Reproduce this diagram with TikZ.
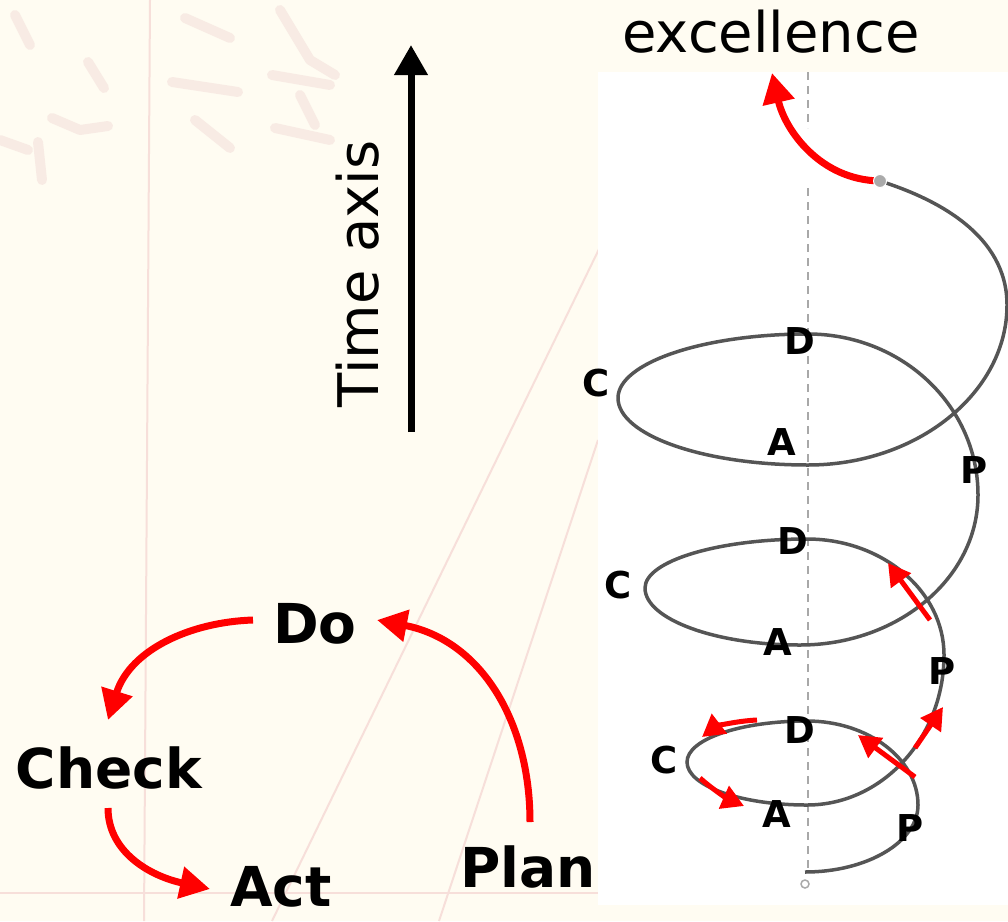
\documentclass[tikz,border=0pt]{standalone}
\usepackage{fontspec}
\setmainfont{DejaVu Sans}
\usetikzlibrary{arrows.meta}
\definecolor{paper}{HTML}{FFFCF2}
\definecolor{faint}{HTML}{F7DFDA}
\definecolor{scrib}{HTML}{EFD3D0}
\definecolor{spiralgray}{HTML}{555555}
\definecolor{dashgray}{HTML}{A8A8A8}
\definecolor{dotgray}{HTML}{AAAAAA}
\tikzset{
  bigbold/.style={font=\fontsize{55}{60}\selectfont\bfseries, inner sep=0pt, anchor=base},
  regtext/.style={font=\fontsize{56}{60}\selectfont, inner sep=0pt, anchor=base},
  lab/.style={font=\fontsize{37}{40}\selectfont\bfseries, inner sep=0pt},
  redarrow/.style={draw=red, line width=7pt, -{Triangle[length=30pt,width=31pt]}},
  smallred/.style={draw=red, line width=5pt, -{Triangle[length=22pt,width=24pt]}},
  spiralline/.style={draw=spiralgray, line width=3.5pt},
  axisline/.style={draw=dashgray, line width=2.5pt, dash pattern=on 8pt off 6pt},
  faintline/.style={draw=faint, line width=2pt},
  scribble/.style={draw=scrib, line width=10pt, line cap=round, line join=round, opacity=0.4},
}
\begin{document}
\begin{tikzpicture}[x=1pt,y=-1pt]
\useasboundingbox (0,0) rectangle (1008,921);
% background paper
\fill[paper] (0,0) rectangle (1008,921);
\draw[faintline] (150,0) -- (144,921);
\draw[faintline] (601,245) -- (272,921);
\draw[faintline] (598,440) -- (439,921);
\draw[faintline] (0,893) -- (600,893);
\draw[scribble] (15,15) -- (30,45);
\draw[scribble] (88,62) -- (104,88);
\draw[scribble] (52,118) -- (80,130) -- (108,126);
\draw[scribble] (0,140) -- (28,150);
\draw[scribble] (38,142) -- (42,180);
\draw[scribble] (185,18) -- (230,38);
\draw[scribble] (172,82) -- (238,92);
\draw[scribble] (195,120) -- (230,148);
\draw[scribble] (280,10) -- (310,60) -- (335,75);
\draw[scribble] (272,75) -- (330,85);
\draw[scribble] (275,128) -- (330,140);
\draw[scribble] (300,95) -- (315,125);
% white panel
\fill[white] (598,72) rectangle (1008,905);
% vertical dashed axis of the spiral
\draw[axisline] (808,72) -- (808,128);
\draw[axisline] (808,188) -- (808,872);
\coordinate (origin) at (805,884);
\draw[dotgray, line width=1.5pt, fill=white] (origin) circle (4);
% spiral
\coordinate (S) at (805,872);
\coordinate (top) at (880,181);
\draw[spiralline] (S)
  .. controls (867,872) and (918,842) .. (918,805)
  .. controls (918,759) and (868,721) .. (807,721)
  .. controls (741,721) and (687,739) .. (687,762)
  .. controls (687,786) and (741,805) .. (807,805)
  .. controls (882,805) and (944,738) .. (944,655)
  .. controls (944,591) and (882,539) .. (807,539)
  .. controls (718,539) and (645,561) .. (645,588)
  .. controls (645,619) and (715,645) .. (800,645)
  .. controls (898,645) and (978,578) .. (978,495)
  .. controls (978,406) and (902,334) .. (808,334)
  .. controls (703,334) and (618,363) .. (618,398)
  .. controls (618,435) and (703,465) .. (808,465)
  .. controls (917,465) and (1007,393) .. (1007,305)
  .. controls (1007,235) and (937,199) .. (top);
% red arrows on the spiral
\coordinate (r1s) at (757,720); \coordinate (r1e) at (702,737);
\coordinate (r2s) at (700,778); \coordinate (r2e) at (744,806);
\coordinate (r3s) at (915,777); \coordinate (r3e) at (858,735);
\coordinate (r4s) at (915,748); \coordinate (r4e) at (943,707);
\coordinate (r5s) at (930,620); \coordinate (r5e) at (888,563);
\path[smallred] (r1s) .. controls (735,721) and (715,727) .. (r1e);
\path[smallred] (r2s) .. controls (712,789) and (728,799) .. (r2e);
\path[smallred] (r3s) -- (r3e);
\path[smallred] (r4s) -- (r4e);
\path[smallred] (r5s) -- (r5e);
% excellence arrow
\node[regtext] (exc) at (771,52) {excellence};
\coordinate (excend) at (772,73);
\path[redarrow] (top) .. controls (820,180) and (785,130) .. (excend);
\fill[dotgray, draw=white, line width=1pt] (top) circle (6.5);
% spiral labels
\node[lab] (D3) at (800,341) {D};
\node[lab] (C3) at (596,383) {C};
\node[lab] (A3) at (782,442) {A};
\node[lab] (P3) at (974,470) {P};
\node[lab] (D2) at (793,541) {D};
\node[lab] (C2) at (618,585) {C};
\node[lab] (A2) at (778,642) {A};
\node[lab] (P2) at (942,671) {P};
\node[lab] (D1) at (800,730) {D};
\node[lab] (C1) at (664,760) {C};
\node[lab] (A1) at (777,814) {A};
\node[lab] (P1) at (910,828) {P};
% time axis
\node[regtext, rotate=90] (time) at (378,274) {Time axis};
\coordinate (tbot) at (411,432);
\coordinate (ttop) at (411,45);
\draw[line width=7pt, -{Triangle[length=30pt,width=32pt]}] (tbot) -- (ttop);
% PDCA cycle
\node[bigbold] (Do) at (315,643) {Do};
\node[bigbold] (Check) at (109,788) {Check};
\node[bigbold] (Act) at (281,906) {Act};
\node[bigbold] (Plan) at (528,887) {Plan};
\coordinate (dcs) at (253,620); \coordinate (dce) at (108,720);
\coordinate (cas) at (108,808); \coordinate (cae) at (210,889);
\coordinate (pds) at (530,822); \coordinate (pde) at (377,620);
\path[redarrow] (dcs) .. controls (190,622) and (130,650) .. (dce);
\path[redarrow] (cas) .. controls (108,852) and (150,876) .. (cae);
\path[redarrow] (pds) .. controls (530,720) and (480,640) .. (pde);
\end{tikzpicture}
\end{document}
